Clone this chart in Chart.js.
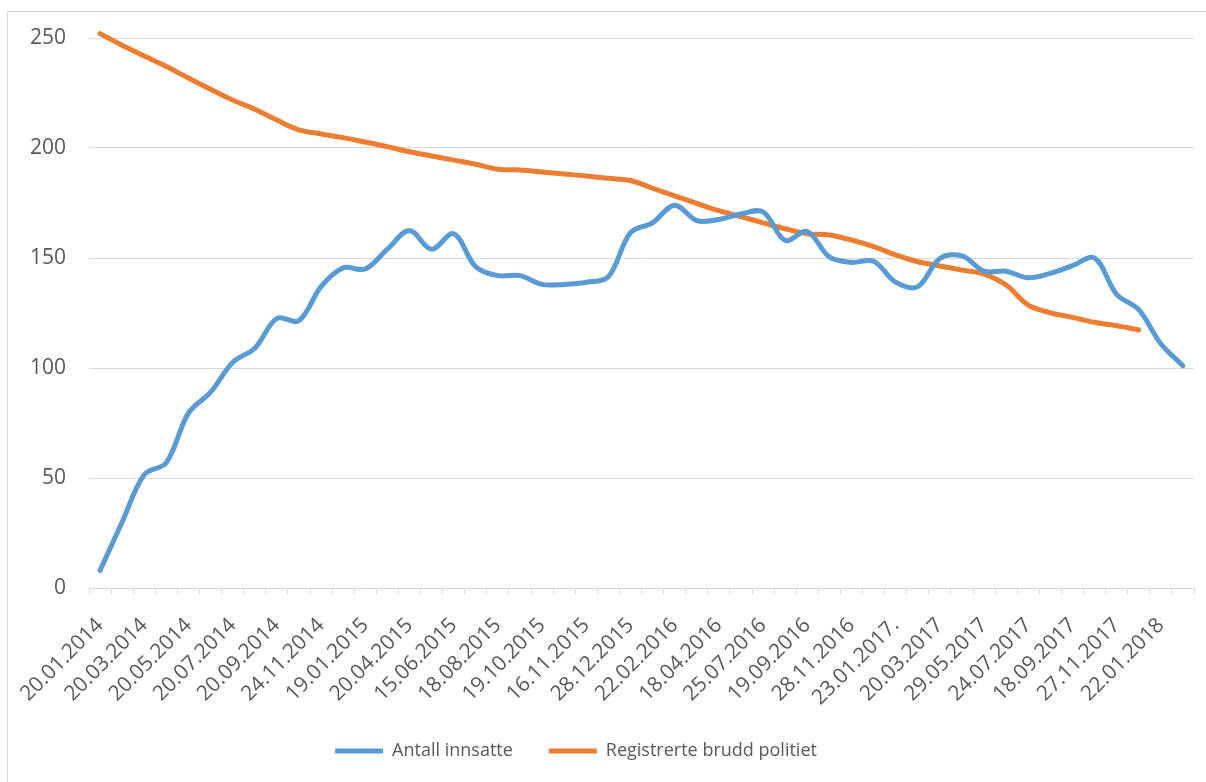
<!DOCTYPE html>
<html><head><meta charset="utf-8">
<script src="https://cdn.jsdelivr.net/npm/chart.js@4/dist/chart.umd.min.js"></script>
<style>
html,body{margin:0;padding:0;background:#fff;overflow:hidden}
#wrap{position:relative;width:1206px;height:782px}
#frame{position:absolute;left:7px;top:11px;width:1230px;height:820px;border:1px solid #d9d9d9;box-sizing:border-box}
canvas{position:absolute;left:0;top:0}
</style></head><body>
<div id="wrap"><div id="frame"></div><canvas id="c" width="1206" height="782"></canvas></div>
<script>
// Tick labels shown on the category axis (every second category is labelled)
const shownDates = ['20.01.2014','20.03.2014','20.05.2014','20.07.2014','20.09.2014','24.11.2014','19.01.2015','20.04.2015','15.06.2015','18.08.2015','19.10.2015','16.11.2015','28.12.2015','22.02.2016','18.04.2016','25.07.2016','19.09.2016','28.11.2016','23.01.2017.','20.03.2017','29.05.2017','24.07.2017','18.09.2017','27.11.2017','22.01.2018'];

// Series values
const antallInnsatte = [8,30,51.5,57,79.5,89,102.5,109,122.5,121.5,137,145.5,145,154,162.5,154,161,146,142,142,138,138,139,141.5,161.5,166,174,167,167.5,170,171,158,162,150.5,148,148.5,139,137,149.8,151,144,144,141,143,146.5,150,133.5,126.5,111,101];
const registrerteBrudd = [252,246.7,241.8,237,231.8,226.7,221.8,217.6,212.7,208.2,206.4,204.7,202.7,200.6,198.3,196.4,194.5,192.6,190.3,190,189.1,188.2,187.3,186.2,185.2,181.7,178.2,174.8,171.5,168.8,166,163.3,161,160.5,158.2,155.2,151.4,148.3,146.4,144.5,142.7,137.7,128.6,125.1,123,120.8,119.2,117.3];

const seriesNames = ['Antall innsatte','Registrerte brudd politiet'];
const yMin = 0, yMax = 250, yStep = 50;

// Category list: labelled categories alternate with unlabelled ones
const categories = antallInnsatte.map((_, i) => i % 2 === 0 ? shownDates[i / 2] : '');

const font = 'Open Sans';
const textColor = '#595959';
const gridColor = '#d9d9d9';

const legendShift = {
  id: 'legendShift',
  afterLayout(chart) {
    if (chart.legend) { chart.legend.left -= 21; chart.legend.right -= 21; }
  }
};

new Chart(document.getElementById('c'), {
  type: 'line',
  data: {
    labels: categories,
    datasets: [
      { label: seriesNames[0], data: antallInnsatte, borderColor: '#5B9BD5', backgroundColor: '#5B9BD5',
        borderWidth: 5, tension: 0.35, pointRadius: 0, pointStyle: 'line', borderCapStyle: 'round', borderJoinStyle: 'round', clip: 10 },
      { label: seriesNames[1], data: registrerteBrudd, borderColor: '#ED7D31', backgroundColor: '#ED7D31',
        borderWidth: 5, tension: 0.35, pointRadius: 0, pointStyle: 'line', borderCapStyle: 'round', borderJoinStyle: 'round', clip: 10 }
    ]
  },
  options: {
    responsive: false,
    animation: false,
    layout: { padding: { left: 0, right: 12, top: 38, bottom: 12 } },
    plugins: {
      legend: {
        position: 'bottom',
        labels: { usePointStyle: true, pointStyleWidth: 48, padding: 36, color: textColor, font: { family: font, size: 18 } }
      },
      tooltip: { enabled: false }
    },
    scales: {
      x: {
        offset: true,
        grid: { offset: true, drawOnChartArea: false, drawTicks: true, tickLength: 6, color: gridColor },
        border: { display: true, color: gridColor },
        ticks: { autoSkip: false, maxRotation: 45, minRotation: 45, padding: 19, color: textColor, font: { family: font, size: 21 } },
        afterFit: s => { s.height = 118; s.paddingRight = 0; }
      },
      y: {
        min: yMin, max: yMax,
        ticks: { stepSize: yStep, padding: 23, color: textColor, font: { family: font, size: 21 } },
        grid: { color: gridColor, drawTicks: false },
        border: { display: false },
        afterFit: s => { s.width = 89; }
      }
    }
  },
  plugins: [legendShift]
});
</script>
</body></html>
